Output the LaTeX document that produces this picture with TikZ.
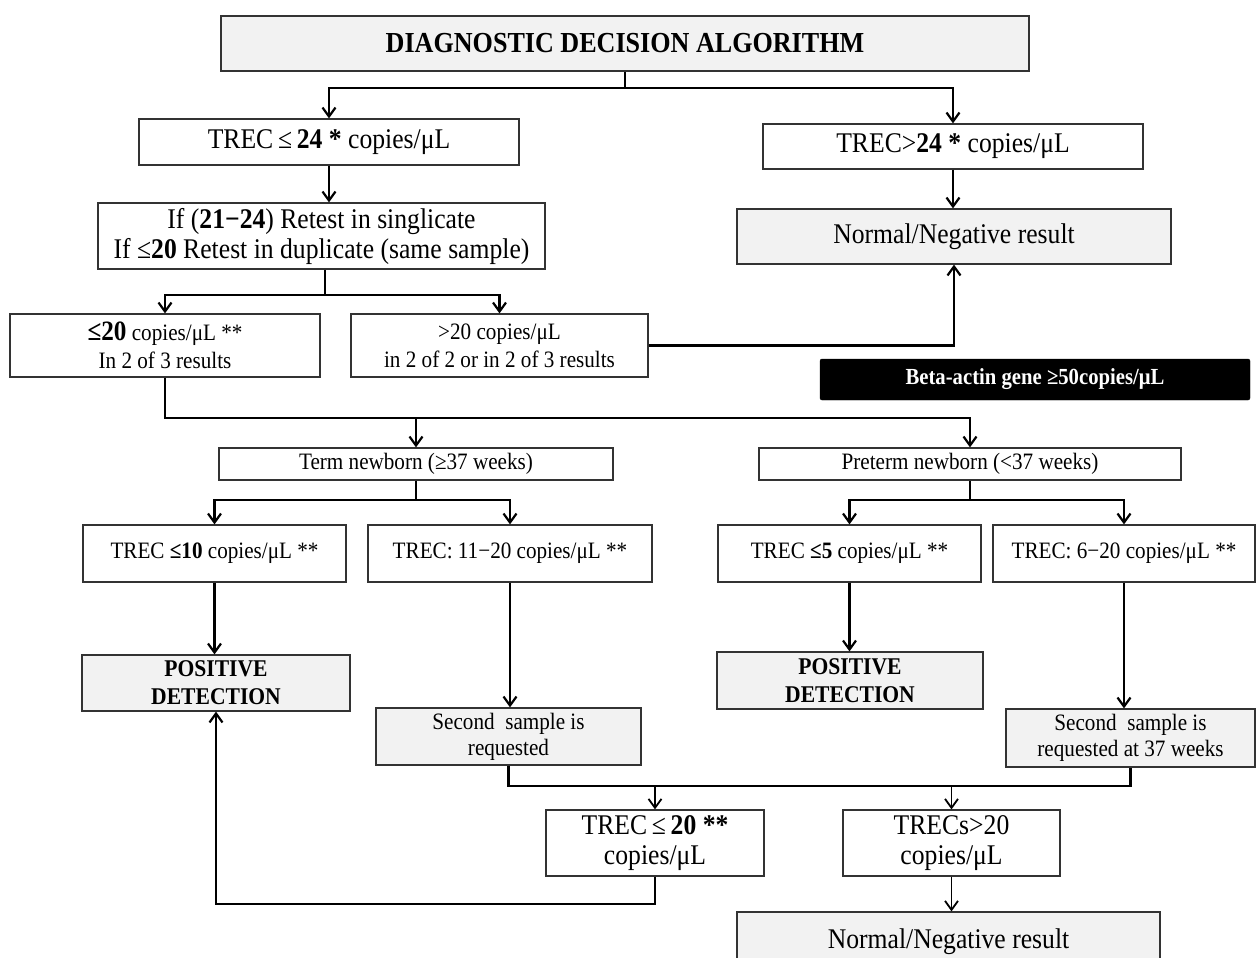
\documentclass[tikz,border=0pt]{standalone}
\usepackage{fontspec}
\setmainfont[FakeStretch=0.9]{Liberation Serif}
\usetikzlibrary{arrows.meta}
\begin{document}
\begin{tikzpicture}[x=1pt,y=-1pt,
  box/.style={draw=black!80,line width=1.2pt,align=center,inner sep=1pt,font=\fontsize{23.5}{26}\selectfont},
  gbox/.style={box,fill=black!5},
  big/.style={font=\fontsize{28.5}{30}\selectfont},
  conn/.style={line width=2.2pt},
  thinconn/.style={line width=1.8pt},
  tip/.style={-{Straight Barb[length=9pt,width=13pt]}},
]
\useasboundingbox (0,0) rectangle (1258,958);

% nodes
\node[gbox,minimum width=808pt,minimum height=55pt,font=\fontsize{29}{30}\selectfont\bfseries] (title) at (625,43.5) {DIAGNOSTIC DECISION ALGORITHM};
\node[box,big,minimum width=380pt,minimum height=46pt] (t24) at (329,142) {TREC\,≤\,\textbf{24 *} copies/μL};
\node[box,big,minimum width=380pt,minimum height=45pt] (g24) at (953,146.5) {TREC>\textbf{24 *} copies/μL};
\node[box,big,minimum width=447pt,minimum height=66pt] (retest) at (321.5,236) {If (\textbf{21−24}) Retest in singlicate\\If ≤\textbf{20} Retest in duplicate (same sample)};
\node[gbox,big,minimum width=434pt,minimum height=55pt] (neg1) at (954,236.5) {Normal/Negative result};
\node[box,minimum width=310pt,minimum height=63pt,font=\fontsize{23.5}{28}\selectfont] (le20) at (165,345.5) {{\fontsize{28}{28}\selectfont\textbf{≤20}} copies/μL **\\In 2 of 3 results};
\node[box,minimum width=297pt,minimum height=63pt,font=\fontsize{23.5}{28}\selectfont] (gt20) at (499.5,345.5) {>20 copies/μL\\in 2 of 2 or in 2 of 3 results};
\node[draw=black,fill=black,text=white,rounded corners=2pt,minimum width=430pt,minimum height=41pt,font=\fontsize{23}{24}\selectfont\bfseries] (beta) at (1035,379.5) {Beta-actin gene ≥50copies/μL};
\node[box,minimum width=394pt,minimum height=32pt] (term) at (416,464) {Term newborn (≥37 weeks)};
\node[box,minimum width=422pt,minimum height=32pt] (pre) at (970,464) {Preterm newborn (<37 weeks)};
\node[box,minimum width=263pt,minimum height=57pt] (t10) at (214.5,553.5) {TREC \textbf{≤10} copies/μL **};
\node[box,minimum width=284pt,minimum height=57pt] (t1120) at (510,553.5) {TREC: 11−20 copies/μL **};
\node[box,minimum width=263pt,minimum height=57pt] (t5) at (849.5,553.5) {TREC \textbf{≤5} copies/μL **};
\node[box,minimum width=262pt,minimum height=57pt] (t620) at (1124,553.5) {TREC: 6−20 copies/μL **};
\node[gbox,minimum width=268pt,minimum height=56pt,font=\fontsize{24}{28}\selectfont\bfseries] (pos1) at (216,683) {POSITIVE\\DETECTION};
\node[gbox,minimum width=265pt,minimum height=57pt] (sec1) at (508.5,736.5) {Second\ \ sample is\\requested};
\node[gbox,minimum width=266pt,minimum height=57pt,font=\fontsize{24}{28}\selectfont\bfseries] (pos2) at (850,680.5) {POSITIVE\\DETECTION};
\node[gbox,minimum width=249pt,minimum height=58pt] (sec2) at (1130.5,738) {Second\ \ sample is\\requested at 37 weeks};
\node[box,big,minimum width=218pt,minimum height=66pt] (t20) at (655,843) {TREC\,≤\,\textbf{20 **}\\copies/μL};
\node[box,big,minimum width=217pt,minimum height=66pt] (tg20) at (951.5,843) {TRECs>20\\copies/μL};
\node[gbox,big,minimum width=423pt,minimum height=60pt] (neg2) at (948.5,942) {Normal/Negative result};

% junctions
\coordinate (j1) at (625,88);
\coordinate (j2) at (325,295);
\coordinate (j3) at (970,418);
\coordinate (j4) at (416,500);
\coordinate (j5) at (970,500);
\coordinate (j6) at (508.5,786);
\coordinate (j7) at (216,904);

% connectors
\draw[conn] (title.south) -- (j1);
\draw[conn,tip] (j1) -| (t24.north);
\draw[conn,tip] (j1) -| (g24.north);
\draw[conn,tip] (t24.south) -- (t24.south |- retest.north);
\draw[conn,tip] (g24.south) -- (g24.south |- neg1.north);
\draw[conn] (retest.south -| j2) -- (j2);
\draw[conn,tip] (j2) -| (le20.north);
\draw[conn,tip] (j2) -| (gt20.north);
\draw[conn,tip] (gt20.east) -| (neg1.south);
\draw[conn,tip] (le20.south) |- (j3) -- (pre.north);
\draw[conn,tip] (term.north |- j3) -- (term.north);
\draw[conn] (term.south) -- (j4);
\draw[conn,tip] (j4) -| (t10.north);
\draw[conn,tip] (j4) -| (t1120.north);
\draw[conn] (pre.south) -- (j5);
\draw[conn,tip] (j5) -| (t5.north);
\draw[conn,tip] (j5) -| (t620.north);
\draw[conn,tip] (t10.south) -- (t10.south |- pos1.north);
\draw[conn,tip] (t1120.south) -- (t1120.south |- sec1.north);
\draw[conn,tip] (t5.south) -- (t5.south |- pos2.north);
\draw[conn,tip] (t620.south) -- (t620.south |- sec2.north);
\draw[conn] (sec1.south) -- (j6) -| (sec2.south);
\draw[thinconn,tip] (t20.north |- j6) -- (t20.north);
\draw[thinconn,tip] (tg20.north |- j6) -- (tg20.north);
\draw[conn,tip] (t20.south) |- (j7) -- (pos1.south);
\draw[thinconn,tip] (tg20.south) -- (tg20.south |- neg2.north);
\end{tikzpicture}
\end{document}
